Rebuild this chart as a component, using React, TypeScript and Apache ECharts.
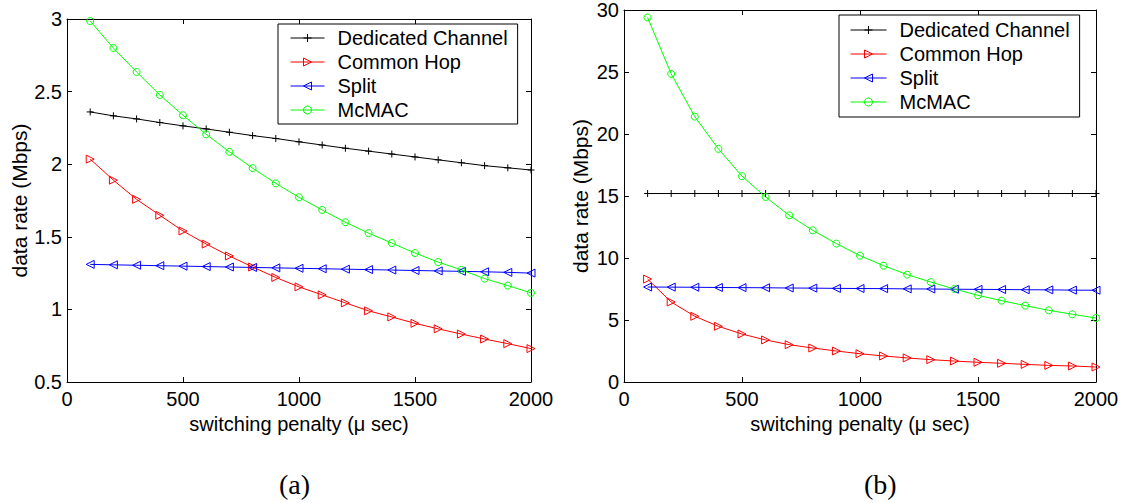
import React, { useEffect, useRef } from "react";
import * as echarts from "echarts";

// Switching penalty (µs) at which every scheme was evaluated
const penalty = [100, 200, 300, 400, 500, 600, 700, 800, 900, 1000, 1100, 1200, 1300, 1400, 1500, 1600, 1700, 1800, 1900, 2000];

const seriesNames = ["Dedicated Channel", "Common Hop", "Split", "McMAC"];

// Panel (a): data rate in Mbps
const dedicatedA = [2.36, 2.333, 2.312, 2.287, 2.264, 2.243, 2.22, 2.197, 2.177, 2.154, 2.132, 2.11, 2.09, 2.07, 2.05, 2.03, 2.01, 1.99, 1.975, 1.96];
const commonHopA = [2.035, 1.89, 1.758, 1.648, 1.54, 1.45, 1.368, 1.292, 1.22, 1.155, 1.1, 1.045, 0.99, 0.948, 0.904, 0.866, 0.83, 0.796, 0.764, 0.73];
const splitA = [1.31, 1.307, 1.304, 1.301, 1.298, 1.295, 1.292, 1.289, 1.286, 1.283, 1.28, 1.277, 1.274, 1.271, 1.268, 1.265, 1.262, 1.259, 1.255, 1.25];
const mcmacA = [2.986, 2.8, 2.635, 2.477, 2.337, 2.206, 2.085, 1.973, 1.868, 1.772, 1.685, 1.6, 1.525, 1.457, 1.388, 1.326, 1.272, 1.212, 1.164, 1.114];

// Panel (b): data rate in Mbps
const dedicatedB = [15.2, 15.2, 15.2, 15.2, 15.2, 15.2, 15.2, 15.2, 15.2, 15.2, 15.2, 15.2, 15.2, 15.2, 15.2, 15.2, 15.2, 15.2, 15.2, 15.2];
const commonHopB = [8.3, 6.45, 5.3, 4.49, 3.87, 3.39, 3.01, 2.74, 2.5, 2.28, 2.1, 1.94, 1.8, 1.69, 1.59, 1.51, 1.42, 1.34, 1.29, 1.21];
const splitB = [7.66, 7.65, 7.64, 7.62, 7.61, 7.6, 7.58, 7.57, 7.55, 7.54, 7.53, 7.51, 7.5, 7.48, 7.47, 7.46, 7.44, 7.43, 7.41, 7.4];
const mcmacB = [29.4, 24.85, 21.4, 18.8, 16.6, 14.92, 13.44, 12.23, 11.16, 10.19, 9.38, 8.66, 8.06, 7.5, 6.99, 6.56, 6.16, 5.78, 5.46, 5.16];

const xTicks = { min: 0, max: 2000, interval: 500 };
const yTicksA = { min: 0.5, max: 3, interval: 0.5 };
const yTicksB = { min: 0, max: 30, interval: 5 };

const xTitle = "switching penalty (\u03bc sec)";
const yTitle = "data rate (Mbps)";
const captions = ["(a)", "(b)"];

const FONT = "'Liberation Sans', Arial, Helvetica, sans-serif";

const styles = [
  { color: "#000000", symbol: "path://M5,0L5,10M0,5L10,5", size: 7 },
  { color: "#ff0000", symbol: "path://M0,0L10,5L0,10Z", size: 8 },
  { color: "#0000ff", symbol: "path://M10,0L0,5L10,10Z", size: 8 },
  { color: "#00ff00", symbol: "circle", size: 7 },
];

const pairs = (ys: number[]) => penalty.map((x, i) => [x, ys[i]]);

function makeSeries(values: number[][], axisIndex: number) {
  return values.map((ys, i) => ({
    type: "line",
    name: seriesNames[i],
    xAxisIndex: axisIndex,
    yAxisIndex: axisIndex,
    data: pairs(ys),
    symbol: styles[i].symbol,
    symbolSize: styles[i].size,
    showSymbol: true,
    lineStyle: { color: styles[i].color, width: 1 },
    itemStyle: { color: "none", borderColor: styles[i].color, borderWidth: 1 },
    emphasis: { disabled: true },
    z: 2,
  }));
}

function axisPair(kind: "x" | "y", gridIndex: number, ticks: any, nameGap: number) {
  const common = {
    type: "value",
    gridIndex,
    min: ticks.min,
    max: ticks.max,
    interval: ticks.interval,
    splitLine: { show: false },
    axisLine: { show: true, onZero: false, lineStyle: { color: "#000", width: 1 } },
    axisTick: { show: true, inside: true, length: 5, lineStyle: { color: "#000", width: 1 } },
  };
  const main = {
    ...common,
    position: kind === "x" ? "bottom" : "left",
    axisLabel: {
      show: true,
      color: "#000",
      fontSize: 20,
      fontFamily: FONT,
      margin: kind === "x" ? 7 : 5,
      formatter: (v: number) => String(v),
    },
    name: kind === "x" ? xTitle : yTitle,
    nameLocation: "middle",
    nameGap,
    nameRotate: kind === "y" ? 90 : 0,
    nameTextStyle: { color: "#000", fontSize: kind === "x" ? 20 : 21, fontFamily: FONT },
  };
  const mirror = {
    ...common,
    position: kind === "x" ? "top" : "right",
    axisLabel: { show: false },
  };
  return [main, mirror];
}

function legendAt(left: number, top: number, itemWidth: number, padding: number[]) {
  return {
    show: true,
    orient: "vertical",
    left,
    top,
    data: seriesNames,
    selectedMode: false,
    backgroundColor: "#fff",
    borderColor: "#000",
    borderWidth: 1,
    padding,
    itemWidth,
    itemHeight: 10,
    itemGap: 4,
    itemStyle: { color: "none", borderWidth: 1 },
    lineStyle: { width: 1 },
    textStyle: { color: "#000", fontSize: 20, fontFamily: FONT, lineHeight: 20, padding: [0, 0, 0, 8] },
  };
}

export default function App() {
  const ref = useRef<HTMLDivElement>(null);

  useEffect(() => {
    if (!ref.current) return;
    const chart = echarts.init(ref.current, undefined, { renderer: "svg" });

    const [xA, xAtop] = axisPair("x", 0, xTicks, 26);
    const [yA, yAright] = axisPair("y", 0, yTicksA, 37);
    const [xB, xBtop] = axisPair("x", 1, xTicks, 26);
    const [yB, yBright] = axisPair("y", 1, yTicksB, 33);

    chart.setOption({
      animation: false,
      backgroundColor: "#ffffff",
      grid: [
        { left: 67, top: 19, width: 464, height: 363 },
        { left: 624, top: 10, width: 472, height: 372 },
      ],
      xAxis: [xA, xAtop, xB, xBtop],
      yAxis: [yA, yAright, yB, yBright],
      legend: [
        legendAt(278, 24, 34, [4, 10, 4, 12]),
        legendAt(839, 15, 36, [5, 10, 5, 11]),
      ],
      series: [
        ...makeSeries([dedicatedA, commonHopA, splitA, mcmacA], 0),
        ...makeSeries([dedicatedB, commonHopB, splitB, mcmacB], 2),
      ],
      graphic: [
        {
          type: "text",
          left: 279,
          top: 470,
          style: { text: captions[0], fill: "#000", font: "28px 'Liberation Serif', 'DejaVu Serif', serif" },
        },
        {
          type: "text",
          left: 864,
          top: 470,
          style: { text: captions[1], fill: "#000", font: "28px 'Liberation Serif', 'DejaVu Serif', serif" },
        },
      ],
    });

    return () => chart.dispose();
  }, []);

  return (
    <div
      ref={ref}
      style={{ position: "fixed", left: 0, top: 0, width: 1128, height: 503, background: "#fff" }}
    />
  );
}
